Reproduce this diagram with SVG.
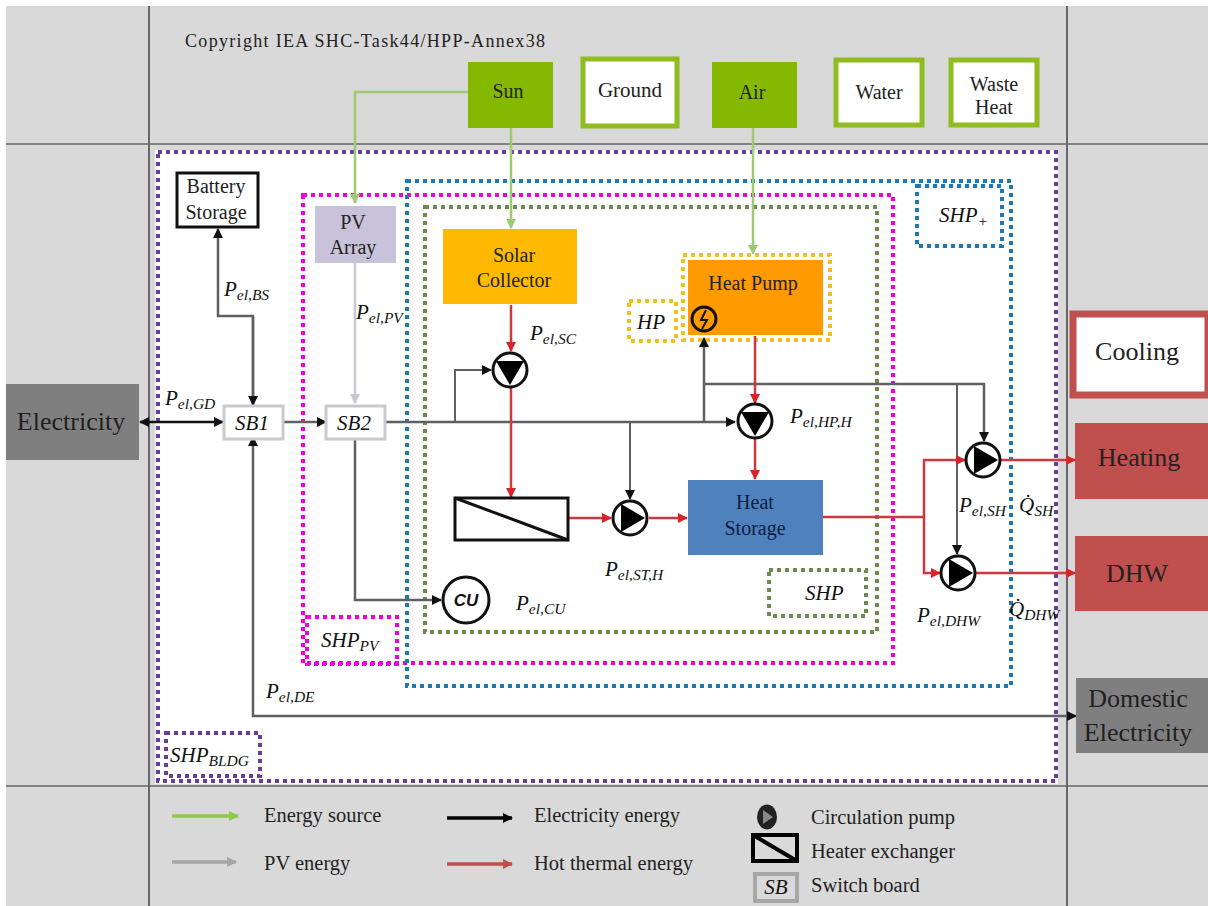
<svg xmlns="http://www.w3.org/2000/svg" width="1208" height="906" viewBox="0 0 1208 906">
<defs>
<marker id="aR" markerUnits="userSpaceOnUse" markerWidth="12" markerHeight="12" refX="9" refY="5" orient="auto"><path d="M0,0L10,5L0,10Z" fill="#d8232a"/></marker>
<marker id="aK" markerUnits="userSpaceOnUse" markerWidth="12" markerHeight="12" refX="9" refY="5" orient="auto"><path d="M0,0L10,5L0,10Z" fill="#111"/></marker>
<marker id="aKs" markerUnits="userSpaceOnUse" markerWidth="12" markerHeight="12" refX="1" refY="5" orient="auto"><path d="M10,0L0,5L10,10Z" fill="#111"/></marker>
<marker id="aG" markerUnits="userSpaceOnUse" markerWidth="12" markerHeight="12" refX="9" refY="5" orient="auto"><path d="M0,0L10,5L0,10Z" fill="#9ccb74"/></marker>
<marker id="aL" markerUnits="userSpaceOnUse" markerWidth="12" markerHeight="12" refX="9" refY="5" orient="auto"><path d="M0,0L10,5L0,10Z" fill="#c8c8d0"/></marker>
<marker id="aLg" markerUnits="userSpaceOnUse" markerWidth="12" markerHeight="12" refX="9" refY="5" orient="auto"><path d="M0,0L10,5L0,10Z" fill="#8cc84b"/></marker>
<marker id="aLy" markerUnits="userSpaceOnUse" markerWidth="12" markerHeight="12" refX="9" refY="5" orient="auto"><path d="M0,0L10,5L0,10Z" fill="#a6a6a6"/></marker>
<marker id="aLk" markerUnits="userSpaceOnUse" markerWidth="12" markerHeight="12" refX="9" refY="5" orient="auto"><path d="M0,0L10,5L0,10Z" fill="#000"/></marker>
<marker id="aLr" markerUnits="userSpaceOnUse" markerWidth="12" markerHeight="12" refX="9" refY="5" orient="auto"><path d="M0,0L10,5L0,10Z" fill="#c0504d"/></marker>
<g id="pumpDown"><circle r="17" fill="#fff" stroke="#111" stroke-width="3"/><path d="M-14,-9L14,-9L0,15Z" fill="#000"/></g>
<g id="pumpRight"><circle r="17" fill="#fff" stroke="#111" stroke-width="3"/><path d="M-9,-14L-9,14L15,0Z" fill="#000"/></g>
</defs>
<style>
text{font-family:"Liberation Serif","Times New Roman",serif;fill:#222}
.t{font-size:20px;text-anchor:middle}
.lg{font-size:20.5px}
.m{font-style:italic;font-size:21px;fill:#111}
.sub{font-size:15.5px}
.g{fill:none;stroke:#606060;stroke-width:2.5}
.k{fill:none;stroke:#606060;stroke-width:2}
.r{fill:none;stroke:#cc3a40;stroke-width:2.5}
.e{fill:none;stroke:#9ccb74;stroke-width:2.5}
.dot{fill:none;stroke-width:4;stroke-dasharray:4 4}
.sb{fill:#fff;stroke:#c9c9d2;stroke-width:3}
.src{fill:#fff;stroke:#8fbc1e;stroke-width:5}
.big{font-size:26px;text-anchor:middle}
</style>
<rect width="1208" height="906" fill="#fff"/>
<rect x="6" y="6" width="1202" height="900" fill="#d9d9d9"/>
<g fill="none" stroke="#666">
<path d="M149,6V906M1067,6V906" stroke-width="2"/>
<path d="M6,144H1208M6,786H1208" stroke-width="1.5"/>
</g>
<rect x="155" y="150" width="903" height="634" fill="#fff"/>
<text x="185" y="47" font-size="18" textLength="360" style="fill:#222">Copyright IEA SHC-Task44/HPP-Annex38</text>

<g id="boundaries">
<rect class="dot" x="158" y="152" width="898" height="629" stroke="#6a3d9a"/>
<rect class="dot" x="303" y="195" width="590" height="468" stroke="#f000e0"/>
<rect class="dot" x="407" y="181" width="604" height="505" stroke="#1f78b4"/>
<rect class="dot" x="425" y="207" width="452" height="425" stroke="#6d8a4c"/>
<rect class="dot" x="683" y="255" width="147" height="85" stroke="#f0c020"/>
</g>

<g id="connectors">
<path class="e" d="M468,92H355V203" marker-end="url(#aG)"/>
<path class="e" d="M511,128V228" marker-end="url(#aG)"/>
<path class="e" d="M753,128V254" marker-end="url(#aG)"/>
<path d="M355,263V403" fill="none" stroke="#c8c8d0" stroke-width="2.5" marker-end="url(#aL)"/>
<path d="M140,422H223" fill="none" stroke="#111" stroke-width="2.5" marker-start="url(#aKs)" marker-end="url(#aK)"/>
<path class="g" d="M253,405V316H218V229" marker-end="url(#aK)"/>
<path class="g" d="M253,316V405" marker-end="url(#aK)"/>
<path class="g" d="M283,422H326" marker-end="url(#aK)"/>
<path class="g" d="M385,422H735" marker-end="url(#aK)"/>
<path class="k" d="M455,422V370H491" marker-end="url(#aK)"/>
<path class="k" d="M630,422V499" marker-end="url(#aK)"/>
<path class="g" d="M704,422V338" marker-end="url(#aK)"/>
<path class="g" d="M704,384H984V441" marker-end="url(#aK)"/>
<path class="k" d="M957,384V554" marker-end="url(#aK)"/>
<path class="g" d="M355,438V600H441" marker-end="url(#aK)"/>
<path class="g" d="M253,437V716H1076" marker-end="url(#aK)" marker-start="url(#aKs)"/>
<path class="r" d="M511,305V351" marker-end="url(#aR)"/>
<path class="r" d="M511,387V497" marker-end="url(#aR)"/>
<path class="r" d="M568,518H611" marker-end="url(#aR)"/>
<path class="r" d="M649,518H687" marker-end="url(#aR)"/>
<path class="r" d="M755,336V403" marker-end="url(#aR)"/>
<path class="r" d="M755,438V479" marker-end="url(#aR)"/>
<path class="r" d="M823,517H924"/>
<path class="r" d="M924,517V460H965" marker-end="url(#aR)"/>
<path class="r" d="M924,517V573H940" marker-end="url(#aR)"/>
<path class="r" d="M1000,460H1075" marker-end="url(#aR)"/>
<path class="r" d="M975,573H1075" marker-end="url(#aR)"/>
</g>

<g id="sun"><rect x="468" y="62" width="85" height="66" fill="#85b800"/><text class="t" x="508" y="98">Sun</text></g>
<g id="ground"><rect class="src" x="583" y="59" width="94" height="67"/><text class="t" x="630" y="97" style="font-size:21px">Ground</text></g>
<g id="air"><rect x="712" y="62" width="85" height="66" fill="#85b800"/><text class="t" x="752" y="99">Air</text></g>
<g id="water"><rect class="src" x="836" y="60" width="86" height="65"/><text class="t" x="879" y="99">Water</text></g>
<g id="waste"><rect class="src" x="951" y="60" width="86" height="65"/><text class="t" x="994" y="91">Waste</text><text class="t" x="994" y="114">Heat</text></g>

<g id="battery"><rect x="177" y="173" width="81" height="54" fill="#fff" stroke="#111" stroke-width="3"/><text class="t" x="216" y="193">Battery</text><text class="t" x="216" y="219">Storage</text></g>
<g id="pv"><rect x="315" y="206" width="81" height="57" fill="#c8c3da"/><text class="t" x="353" y="229">PV</text><text class="t" x="353" y="254">Array</text></g>
<g id="solar"><rect x="443" y="229" width="134" height="75" fill="#ffb900"/><text class="t" x="514" y="262">Solar</text><text class="t" x="514" y="287">Collector</text></g>
<g id="heatpump"><rect x="688" y="260" width="135" height="75" fill="#ff9a00"/><text class="t" x="753" y="290">Heat Pump</text>
<circle cx="704" cy="319" r="12" fill="#ff9a00" stroke="#111" stroke-width="3"/><path d="M706,310L701,320H707L702,329" fill="none" stroke="#111" stroke-width="2"/></g>
<g id="storage"><rect x="688" y="480" width="135" height="75" fill="#4f81bd"/><text class="t" x="755" y="509" style="fill:#102040">Heat</text><text class="t" x="755" y="535" style="fill:#102040">Storage</text></g>
<g id="sb1"><rect class="sb" x="224" y="406" width="59" height="33"/><text class="m" x="252" y="430" text-anchor="middle">SB1</text></g>
<g id="sb2"><rect class="sb" x="326" y="406" width="59" height="33"/><text class="m" x="354" y="430" text-anchor="middle">SB2</text></g>
<g id="hx"><rect x="455" y="498" width="113" height="42" fill="#fff" stroke="#111" stroke-width="3"/><path d="M455,498L568,540" stroke="#111" stroke-width="3"/></g>
<g id="cu"><circle cx="466" cy="600" r="23" fill="#fff" stroke="#111" stroke-width="3"/><text x="466" y="606" text-anchor="middle" font-size="17" font-weight="bold" font-style="italic" style="font-family:'Liberation Sans',sans-serif;fill:#111">CU</text></g>
<g id="pumpSC"><use href="#pumpDown" x="510" y="370"/></g>
<g id="pumpHP"><use href="#pumpDown" x="755" y="421"/></g>
<g id="pumpST"><use href="#pumpRight" x="630" y="518"/></g>
<g id="pumpSH"><use href="#pumpRight" x="983" y="460"/></g>
<g id="pumpDHW"><use href="#pumpRight" x="958" y="573"/></g>

<g id="electricity"><rect x="6" y="384" width="133" height="76" fill="#7f7f7f"/><text class="big" x="71" y="430" style="fill:#1f1f1f">Electricity</text></g>
<g id="cooling"><rect x="1073" y="314" width="135" height="81" fill="#fff" stroke="#c0504d" stroke-width="7"/><text class="big" x="1137" y="360">Cooling</text></g>
<g id="heating"><rect x="1075" y="423" width="133" height="76" fill="#c0504d"/><text class="big" x="1139" y="466">Heating</text></g>
<g id="dhw"><rect x="1075" y="536" width="133" height="75" fill="#c0504d"/><text class="big" x="1137" y="582">DHW</text></g>
<g id="domestic"><rect x="1076" y="678" width="132" height="75" fill="#7f7f7f"/><text class="big" x="1138" y="707" style="fill:#1f1f1f">Domestic</text><text class="big" x="1138" y="741" style="fill:#1f1f1f">Electricity</text></g>

<g id="labelBoxes">
<rect class="dot" x="917" y="186" width="85" height="60" stroke="#1f78b4"/>
<rect class="dot" x="629" y="301" width="47" height="40" stroke="#f0c020"/>
<rect class="dot" x="769" y="570" width="97" height="46" stroke="#6d8a4c"/>
<rect class="dot" x="307" y="617" width="90" height="47" stroke="#f000e0"/>
<rect class="dot" x="166" y="733" width="94" height="43" stroke="#6a3d9a"/>
<text class="m" x="939" y="222">SHP<tspan class="sub" dy="4">+</tspan></text>
<text class="m" x="637" y="329">HP</text>
<text class="m" x="805" y="600">SHP</text>
<text class="m" x="321" y="647">SHP<tspan class="sub" dy="4">PV</tspan></text>
<text class="m" x="170" y="762">SHP<tspan class="sub" dy="4">BLDG</tspan></text>
</g>

<g id="labels">
<text class="m" x="165" y="405">P<tspan class="sub" dy="4">el,GD</tspan></text>
<text class="m" x="224" y="296">P<tspan class="sub" dy="4">el,BS</tspan></text>
<text class="m" x="356" y="319">P<tspan class="sub" dy="4">el,PV</tspan></text>
<text class="m" x="530" y="340">P<tspan class="sub" dy="4">el,SC</tspan></text>
<text class="m" x="790" y="423">P<tspan class="sub" dy="4">el,HP,H</tspan></text>
<text class="m" x="605" y="576">P<tspan class="sub" dy="4">el,ST,H</tspan></text>
<text class="m" x="516" y="610">P<tspan class="sub" dy="4">el,CU</tspan></text>
<text class="m" x="959" y="512">P<tspan class="sub" dy="4">el,SH</tspan></text>
<text class="m" x="917" y="622">P<tspan class="sub" dy="4">el,DHW</tspan></text>
<text class="m" x="266" y="698">P<tspan class="sub" dy="4">el,DE</tspan></text>
<text class="m" x="1019" y="512">Q̇<tspan class="sub" dy="4">SH</tspan></text>
<text class="m" x="1009" y="616">Q̇<tspan class="sub" dy="4">DHW</tspan></text>
</g>

<g id="legend">
<path d="M172,816H238" fill="none" stroke="#8cc84b" stroke-width="3.5" marker-end="url(#aLg)"/>
<path d="M172,862H236" fill="none" stroke="#a6a6a6" stroke-width="3.5" marker-end="url(#aLy)"/>
<path d="M447,818H512" fill="none" stroke="#000" stroke-width="3.5" marker-end="url(#aLk)"/>
<path d="M447,864H512" fill="none" stroke="#c0504d" stroke-width="3.5" marker-end="url(#aLr)"/>
<text class="lg" x="264" y="822">Energy source</text>
<text class="lg" x="264" y="870">PV energy</text>
<text class="lg" x="534" y="822">Electricity energy</text>
<text class="lg" x="534" y="870">Hot thermal energy</text>
<text class="lg" x="811" y="824">Circulation pump</text>
<text class="lg" x="811" y="858">Heater exchanger</text>
<text class="lg" x="811" y="892">Switch board</text>
<ellipse cx="767" cy="817" rx="10" ry="12.5" fill="#222"/><path d="M763,810V824L773,817Z" fill="#888"/>
<rect x="753" y="835" width="44" height="26" fill="none" stroke="#000" stroke-width="4"/><path d="M753,835L797,861" stroke="#000" stroke-width="4"/>
<rect x="755" y="874" width="42" height="27" fill="none" stroke="#a6a6a6" stroke-width="4"/>
<text class="m" x="776" y="894" text-anchor="middle">SB</text>
</g>
</svg>
